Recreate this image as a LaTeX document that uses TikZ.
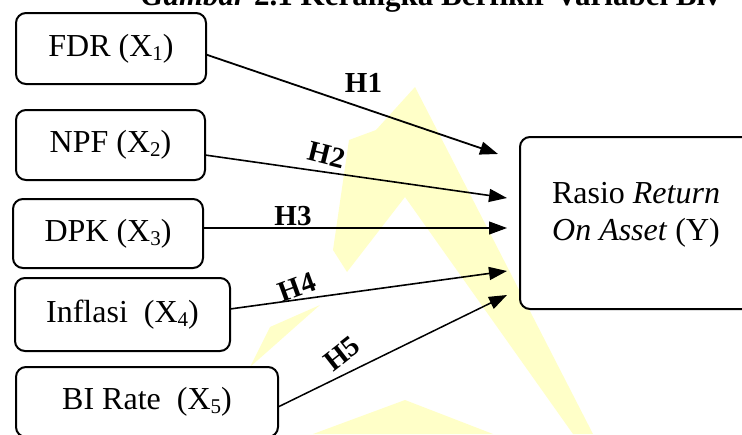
\documentclass[tikz,border=0pt]{standalone}
\usepackage{fontspec}
\setmainfont{Liberation Serif}
\usetikzlibrary{arrows.meta}

\definecolor{wmyellow}{RGB}{255,255,200}
\newcommand{\lowidx}[1]{\raisebox{-0.12em}{\fontsize{21}{21}\selectfont #1}}

\tikzset{
  varbox/.style={draw, line width=2pt, rounded corners=10pt, fill=white,
    inner sep=0pt, outer sep=0pt, font=\fontsize{32}{37}\selectfont},
  hyp/.style={line width=1.8pt, -{Triangle[length=18pt,width=13pt]}},
  hyplabel/.style={font=\fontsize{29}{32}\selectfont\bfseries, inner sep=0pt},
}

\begin{document}
\begin{tikzpicture}[x=1pt,y=-1pt]
\clip (0,0) rectangle (742,434);

% faint logo in the background
\fill[wmyellow] (415,87) -- (593,434) -- (573,434) -- (405,197) -- (347,272)
  -- (333,250) -- (349,140) -- (376,130) -- cycle;
\fill[wmyellow] (270,327) -- (320,305) -- (250,367) -- cycle;
\fill[wmyellow] (313,434) -- (405,400) -- (493,434) -- cycle;

% heading, cut by the page edge
\node[anchor=base west, inner sep=0pt, font=\fontsize{31}{34}\selectfont\bfseries]
  (title) at (141,5) {\textit{Gambar} 2.1 Kerangka Berfikir Variabel Biv};

% independent variables
\node[varbox, minimum width=190pt, minimum height=71pt] (fdr)  at (111,48.5)  {FDR (X\lowidx{1})};
\node[varbox, minimum width=189pt, minimum height=70pt] (npf)  at (110.5,145) {NPF (X\lowidx{2})};
\node[varbox, minimum width=190pt, minimum height=69pt] (dpk)  at (108,233.5) {DPK (X\lowidx{3})};
\node[varbox, minimum width=215pt, minimum height=73pt] (infl) at (122.5,314.5) {Inflasi\ \ (X\lowidx{4})};
\node[varbox, minimum width=262pt, minimum height=70pt] (bir)  at (147,402)   {BI Rate\ \ (X\lowidx{5})};

% dependent variable
\node[varbox, minimum width=310pt, minimum height=172pt] (roa) at (675,223) {};
\node[align=center, inner sep=0pt, font=\fontsize{32}{37}\selectfont] (roatext)
  at (636,215) {Rasio \textit{Return}\\\textit{On Asset} (Y)};

% arrow tips in front of the dependent variable
\coordinate (t1) at (498,154);
\coordinate (t2) at (507,198);
\coordinate (t3) at (507,228);
\coordinate (t4) at (507,271);
\coordinate (t5) at (507,295);

\draw[hyp] ([yshift=-6pt]fdr.east) -- (t1);
\draw[hyp, line width=1.6pt] ([yshift=-10pt]npf.east) -- (t2);
\draw[hyp, line width=1.1pt] ([yshift=5.5pt]dpk.east) -- (t3);
\draw[hyp, line width=1.6pt] ([yshift=5.5pt]infl.east) -- (t4);
\draw[hyp, line width=1.5pt] ([yshift=-5pt]bir.east) -- (t5);

% hypothesis labels
\node[hyplabel, anchor=base] (h1) at (363.5,92) {H1};
\node[hyplabel, rotate=-14] (h2) at (327,155) {H2};
\node[hyplabel, anchor=base] (h3) at (293,225) {H3};
\node[hyplabel, rotate=20] (h4) at (297,287) {H4};
\node[hyplabel, rotate=38] (h5) at (342,354) {H5};
\end{tikzpicture}
\end{document}
